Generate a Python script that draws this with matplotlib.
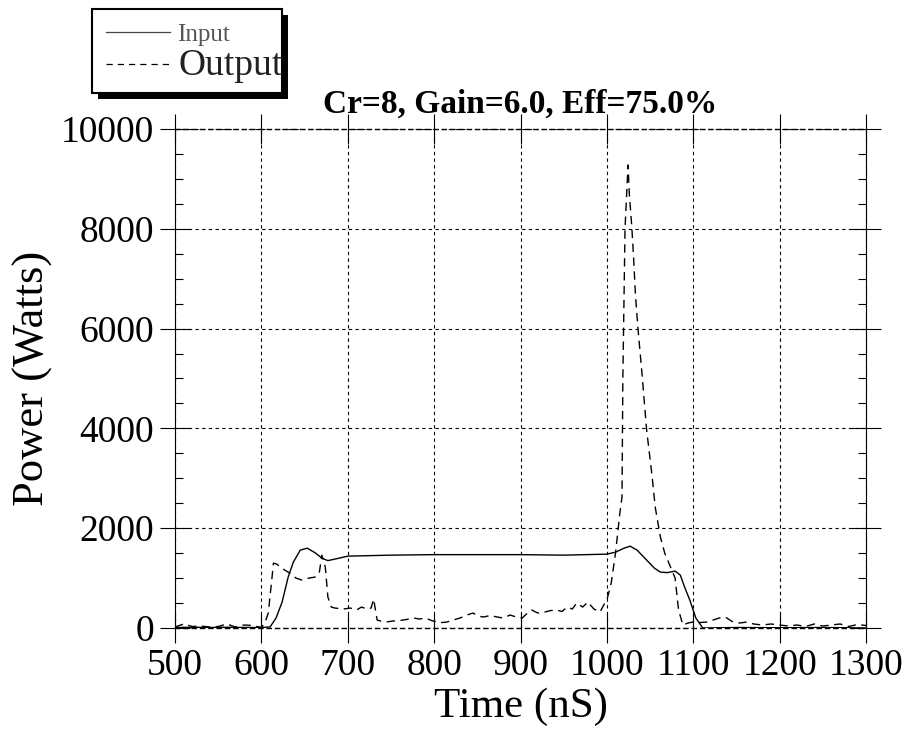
import matplotlib
matplotlib.use("Agg")
import matplotlib.pyplot as plt
from matplotlib.lines import Line2D
from matplotlib.patches import Rectangle
from matplotlib.ticker import MultipleLocator

plt.rcParams['font.family'] = ['Liberation Serif', 'DejaVu Serif']

# values
input_t = [500, 520, 540, 560, 580, 600, 610, 617, 624, 631, 637, 645, 653, 662,
           670, 677, 690, 700, 750, 800, 850, 900, 950, 1000, 1010, 1020, 1027,
           1035, 1045, 1055, 1062, 1070, 1079, 1085, 1090, 1096, 1103, 1111, 1150,
           1200, 1250, 1300]
input_p = [10, 15, 10, 15, 10, 10, 20, 200, 520, 1020, 1320, 1560, 1600, 1510,
           1400, 1350, 1400, 1440, 1460, 1470, 1470, 1470, 1460, 1480, 1520, 1600, 1640,
           1560, 1380, 1200, 1120, 1110, 1140, 1060, 820, 560, 200, 0, 10,
           5, 10, 0]

output_t = [500, 510, 520, 530, 540, 550, 560, 570, 580, 590, 600, 604, 608, 612,
            614, 618, 622, 628, 633, 640, 647, 655, 662, 667, 670, 674, 677, 681,
            685, 695, 703, 710, 716, 722, 727, 730, 734, 740, 745, 752, 760, 768,
            776, 783, 790, 797, 803, 810, 815, 822, 830, 838, 845, 851, 857, 865,
            873, 880, 888, 895, 902, 908, 913, 920, 928, 935, 942, 948, 954, 960,
            965, 972, 978, 985, 992, 997, 1000, 1005, 1010, 1012, 1015, 1017.5, 1018.5,
            1021, 1024.5, 1026, 1029, 1031, 1033, 1036, 1041, 1046, 1052, 1056, 1062,
            1067, 1073, 1079, 1083, 1088, 1094, 1100, 1108, 1116, 1123, 1130, 1137,
            1146, 1154, 1162, 1170, 1180, 1190, 1200, 1210, 1220, 1230, 1240, 1250,
            1260, 1270, 1280, 1290, 1300]
output_p = [20, 80, 30, 40, 20, 30, 80, 20, 60, 50, 10, 100, 300, 960,
            1300, 1280, 1220, 1150, 1100, 1000, 960, 1000, 1020, 1100, 1460, 1220, 620, 420,
            400, 380, 400, 360, 420, 380, 400, 580, 160, 130, 120, 140, 150, 170,
            200, 180, 200, 150, 120, 110, 120, 160, 200, 260, 300, 240, 220, 250,
            220, 200, 260, 220, 200, 300, 360, 300, 320, 350, 360, 330, 420, 380,
            500, 420, 520, 380, 320, 480, 560, 900, 1500, 1820, 2300, 2620, 5000,
            8000, 9280, 8700, 8000, 7400, 6700, 6000, 5030, 3970, 3100, 2420, 1820,
            1500, 1250, 1000, 360, 60, 100, 120, 110, 120, 160, 200, 220,
            120, 100, 120, 80, 60, 80, 60, 40, 60, 30, 80, 40,
            60, 80, 30, 70, 50]

W, H = 908, 732
fig = plt.figure(figsize=(W / 100, H / 100), dpi=100)
ax = fig.add_axes([175 / W, 1 - 628 / H, (866 - 175) / W, (628 - 129) / H])

ax.plot(input_t, input_p, color="black", lw=1.0, ls="-")
ax.plot(output_t, output_p, color="black", lw=1.0, ls=(0, (6, 4)))

ax.set_xlim(500, 1300)
ax.set_ylim(0, 10000)
ax.xaxis.set_major_locator(MultipleLocator(100))
ax.yaxis.set_major_locator(MultipleLocator(2000))
ax.yaxis.set_minor_locator(MultipleLocator(500))
ax.grid(True, which="major", color="black", ls=(0, (3, 3)), lw=0.8)
ax.tick_params(which="major", direction="inout", length=22, width=0.8,
               top=True, right=True, labelsize=27, pad=4)
ax.tick_params(which="minor", axis="y", direction="in", length=6, width=0.8,
               left=True, right=True)
for s in ["left", "right"]:
    ax.spines[s].set_linewidth(0.8)
for s in ["top", "bottom"]:
    ax.spines[s].set_linewidth(1.0)
    ax.spines[s].set_linestyle((0, (3, 3)))

ax.set_xlabel("Time (nS)", fontsize=31, labelpad=3)
ax.set_ylabel("Power (Watts)", fontsize=32, labelpad=6)
ax.set_title("Cr=8, Gain=6.0, Eff=75.0%", fontsize=24, fontweight="bold", pad=12)

# legend box with hard shadow, above the axes on the left
def fx(px):
    return px / W

def fy(py):
    return 1 - py / H

fig.add_artist(Rectangle((fx(98), fy(99)), fx(288) - fx(98), fy(15) - fy(99),
                         transform=fig.transFigure, facecolor="black", edgecolor="none"))
fig.add_artist(Rectangle((fx(92), fy(93)), fx(282) - fx(92), fy(9) - fy(93),
                         transform=fig.transFigure, facecolor="white",
                         edgecolor="black", lw=1.5))
fig.add_artist(Line2D([fx(106), fx(170)], [fy(32), fy(32)], transform=fig.transFigure,
                      color="#444444", lw=0.9))
fig.add_artist(Line2D([fx(106), fx(170)], [fy(64), fy(64)], transform=fig.transFigure,
                      color="black", lw=0.9, ls=(0, (5, 4))))
fig.text(fx(177), fy(35), "Input", fontsize=18, color="#555555", va="center", ha="left")
fig.text(fx(178), fy(66), "Output", fontsize=27, color="#222222", va="center", ha="left")

fig.savefig("out.png", dpi=100)
